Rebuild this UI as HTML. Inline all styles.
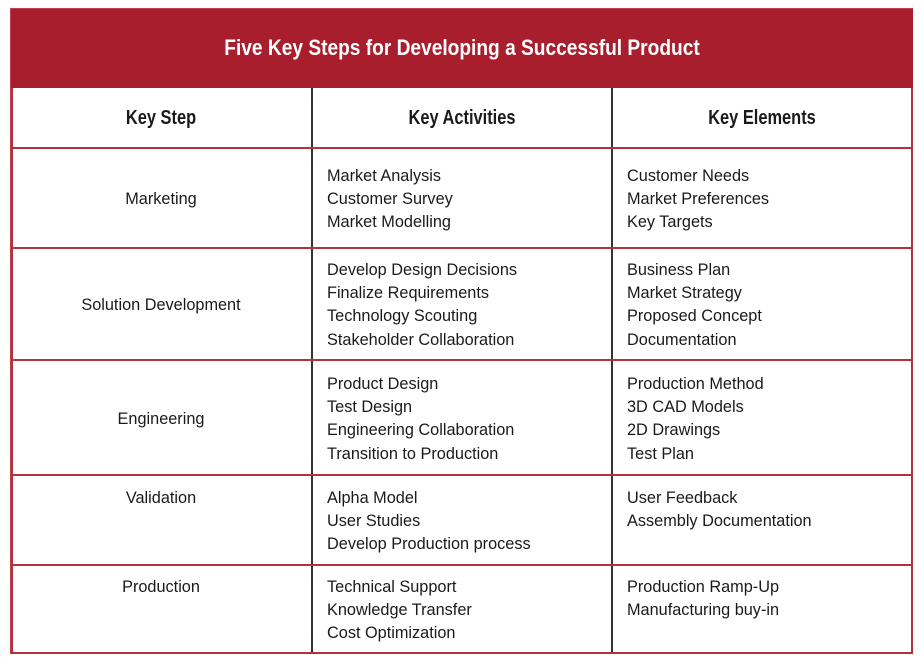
<!DOCTYPE html>
<html><head><meta charset="utf-8"><style>
body{margin:0;width:922px;height:664px;background:#fff;position:relative;font-family:"Liberation Sans",sans-serif;color:#1a1a1a;overflow:hidden}
.a{position:absolute}
.t{font-size:16.3px;line-height:23.2px;white-space:nowrap}
.c{text-align:center;width:300px;left:11px}
.h{font-weight:bold;font-size:20px;text-align:center;transform:scaleX(0.82);transform-origin:center}
.hr{position:absolute;left:11px;width:902px;height:2px;background:#b5303d}
.vr{position:absolute;width:2px;background:#333;top:88px;height:566px}
</style></head><body>
<div class="a" style="left:10px;top:8px;width:903px;height:646px;border:1px solid #c04050;box-sizing:border-box"></div>
<div class="a" style="left:11px;top:9px;width:902px;height:79px;background:#a81e2d"></div>
<div class="a h" style="left:11px;width:902px;top:35px;color:#fff;font-size:22px;transform:scaleX(0.87)">Five Key Steps for Developing a Successful Product</div>
<div class="a" style="left:11px;top:88px;width:2px;height:566px;background:#b5303d"></div>
<div class="a" style="left:911px;top:88px;width:2px;height:566px;background:#b5303d"></div>
<div class="vr" style="left:311px"></div>
<div class="vr" style="left:611px"></div>
<div class="hr" style="top:147px"></div>
<div class="hr" style="top:247px"></div>
<div class="hr" style="top:359px"></div>
<div class="hr" style="top:474px"></div>
<div class="hr" style="top:564px"></div>
<div class="hr" style="top:652px"></div>
<div class="a h" style="left:11px;width:300px;top:107px">Key Step</div>
<div class="a h" style="left:312px;width:300px;top:107px">Key Activities</div>
<div class="a h" style="left:612px;width:300px;top:107px">Key Elements</div>

<div class="a t c" style="top:188px">Marketing</div>
<div class="a t" style="left:327px;top:165px">Market Analysis<br>Customer Survey<br>Market Modelling</div>
<div class="a t" style="left:627px;top:165px">Customer Needs<br>Market Preferences<br>Key Targets</div>

<div class="a t c" style="top:294px">Solution Development</div>
<div class="a t" style="left:327px;top:259px">Develop Design Decisions<br>Finalize Requirements<br>Technology Scouting<br>Stakeholder Collaboration</div>
<div class="a t" style="left:627px;top:259px">Business Plan<br>Market Strategy<br>Proposed Concept<br>Documentation</div>

<div class="a t c" style="top:408px">Engineering</div>
<div class="a t" style="left:327px;top:373px">Product Design<br>Test Design<br>Engineering Collaboration<br>Transition to Production</div>
<div class="a t" style="left:627px;top:373px">Production Method<br>3D CAD Models<br>2D Drawings<br>Test Plan</div>

<div class="a t c" style="top:487px">Validation</div>
<div class="a t" style="left:327px;top:487px">Alpha Model<br>User Studies<br>Develop Production process</div>
<div class="a t" style="left:627px;top:487px">User Feedback<br>Assembly Documentation</div>

<div class="a t c" style="top:576px">Production</div>
<div class="a t" style="left:327px;top:576px">Technical Support<br>Knowledge Transfer<br>Cost Optimization</div>
<div class="a t" style="left:627px;top:576px">Production Ramp-Up<br>Manufacturing buy-in</div>
</body></html>
